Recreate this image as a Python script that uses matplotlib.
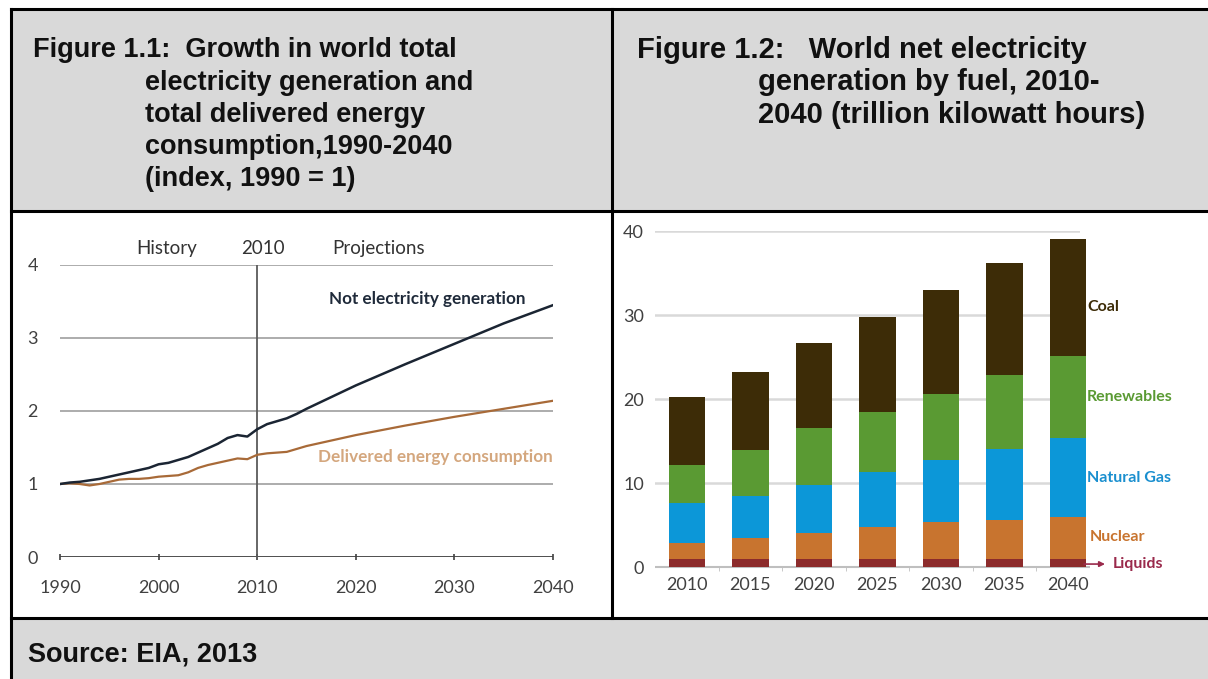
import matplotlib
matplotlib.use("Agg")
import matplotlib.pyplot as plt
from matplotlib.patches import Rectangle
import numpy as np

# ---------------- data ----------------
# Figure 1.1 (index, 1990 = 1)
years_line = [1990, 1991, 1992, 1993, 1994, 1995, 1996, 1997, 1998, 1999, 2000,
              2001, 2002, 2003, 2004, 2005, 2006, 2007, 2008, 2009, 2010, 2011,
              2012, 2013, 2014, 2015, 2020, 2025, 2030, 2035, 2040]
net_generation = [1.00, 1.02, 1.03, 1.05, 1.07, 1.10, 1.13, 1.16, 1.19, 1.22, 1.27,
                  1.29, 1.33, 1.37, 1.43, 1.49, 1.55, 1.63, 1.67, 1.65, 1.75, 1.82,
                  1.86, 1.90, 1.96, 2.03, 2.35, 2.64, 2.92, 3.20, 3.45]
delivered_energy = [1.00, 1.01, 1.00, 0.98, 1.00, 1.03, 1.06, 1.07, 1.07, 1.08, 1.10,
                    1.11, 1.12, 1.16, 1.22, 1.26, 1.29, 1.32, 1.35, 1.34, 1.40, 1.42,
                    1.43, 1.44, 1.48, 1.52, 1.67, 1.80, 1.92, 2.03, 2.14]
x_ticks_left = [1990, 2000, 2010, 2020, 2030, 2040]
y_ticks_left = [0, 1, 2, 3, 4]

# Figure 1.2 (trillion kWh)
bar_years = ["2010", "2015", "2020", "2025", "2030", "2035", "2040"]
liquids = [1.0, 1.0, 1.0, 0.9, 0.9, 0.9, 0.9]
nuclear = [1.9, 2.5, 3.1, 3.9, 4.5, 4.7, 5.1]
natural_gas = [4.7, 5.0, 5.7, 6.5, 7.3, 8.5, 9.4]
renewables = [4.5, 5.4, 6.7, 7.1, 7.9, 8.7, 9.7]
coal = [8.1, 9.3, 10.2, 11.4, 12.4, 13.4, 14.0]
fuel_names = ["Liquids", "Nuclear", "Natural Gas", "Renewables", "Coal"]
y_ticks_right = [0, 10, 20, 30, 40]

# ---------------- figure / table ----------------
W, H = 1208, 679
fig = plt.figure(figsize=(W / 100, H / 100), dpi=100)
fig.patch.set_facecolor("white")

bg = fig.add_axes([0, 0, 1, 1])
bg.set_xlim(0, W)
bg.set_ylim(H, 0)
bg.axis("off")

gray = "#d9d9d9"
bg.add_patch(Rectangle((11, 9), W - 11, 202, facecolor=gray, edgecolor="none"))
bg.add_patch(Rectangle((11, 618), W - 11, H - 618, facecolor=gray, edgecolor="none"))
lw_b = 2.2
bg.plot([11, W], [9, 9], color="black", lw=lw_b)
bg.plot([11, W], [211, 211], color="black", lw=lw_b)
bg.plot([11, W], [618, 618], color="black", lw=lw_b)
bg.plot([11, 11], [9, H], color="black", lw=lw_b)
bg.plot([612, 612], [9, 618], color="black", lw=lw_b)

hdr_font = dict(family="Liberation Sans", weight="bold", fontsize=19.5, color="#111111",
                va="center", ha="left")
hdr_font_r = dict(hdr_font, fontsize=21)
bg.text(33, 50, "Figure 1.1:  Growth in world total", **hdr_font)
for i, line in enumerate(["electricity generation and", "total delivered energy",
                          "consumption,1990-2040", "(index, 1990 = 1)"]):
    bg.text(145, 82.5 + i * 32.3, line, **hdr_font)
bg.text(637, 50, "Figure 1.2:   World net electricity", **hdr_font_r)
for i, line in enumerate(["generation by fuel, 2010-", "2040 (trillion kilowatt hours)"]):
    bg.text(758, 82.5 + i * 32.3, line, **hdr_font_r)
bg.text(28, 655, "Source: EIA, 2013", **hdr_font)


def ax_rect(x0, y0, x1, y1):
    return [x0 / W, 1 - y1 / H, (x1 - x0) / W, (y1 - y0) / H]


chart_font = "Lato"
tick_col = "#404040"

# ---------------- left chart ----------------
axl = fig.add_axes(ax_rect(60, 265, 553, 557))
axl.set_xlim(1990, 2040)
axl.set_ylim(0, 4)
for s in axl.spines.values():
    s.set_visible(False)
for yv in y_ticks_left[1:]:
    axl.axhline(yv, color="#a6a6a6", lw=1.3, zorder=1)
axl.axhline(0, color="#404040", lw=1.3, zorder=2)
axl.plot([2010, 2010], [0, 4], color="#5a5a5a", lw=1.3, zorder=2)
axl.plot(years_line, delivered_energy, color="#a86a38", lw=1.6, zorder=3)
axl.plot(years_line, net_generation, color="#1b2533", lw=1.8, zorder=4)
axl.set_xticks(x_ticks_left)
axl.set_xticklabels([str(v) for v in x_ticks_left])
axl.set_yticks(y_ticks_left)
axl.set_yticklabels([str(v) for v in y_ticks_left])
axl.tick_params(axis="x", length=5, direction="inout", color="#404040", width=1.2,
                labelsize=13, labelcolor=tick_col, pad=14)
axl.tick_params(axis="y", length=0, labelsize=13, labelcolor=tick_col, pad=16)
for lab in axl.get_xticklabels() + axl.get_yticklabels():
    lab.set_family(chart_font)
for xv, txt in [(2000.8, "History"), (2010.6, "2010"), (2022.3, "Projections")]:
    axl.text(xv, 4.22, txt, ha="center", va="center", fontsize=13.5,
             family=chart_font, color="#333333", clip_on=False)
axl.text(2027.2, 3.53, "Not electricity generation", ha="center", va="center",
         fontsize=12.3, weight="bold", family=chart_font, color="#1f2a3a")
axl.text(2028.1, 1.37, "Delivered energy consumption", ha="center", va="center",
         fontsize=12.3, weight="bold", family=chart_font, color="#d4a77e", clip_on=False)

# ---------------- right chart ----------------
c0, step = 687.0, 63.5
gx0, gx1 = 655, 1080
axr = fig.add_axes(ax_rect(gx0, 231, gx1, 567))
axr.set_xlim((gx0 - c0) / step, (gx1 - c0) / step)
axr.set_ylim(0, 40)
for s in axr.spines.values():
    s.set_visible(False)
for yv in y_ticks_right[1:]:
    axr.axhline(yv, color="#d9d9d9", lw=1.8, zorder=0)
xpos = np.arange(len(bar_years))
axr.hlines(0, -0.5, 6.35, color="#bfbfbf", lw=1.5, zorder=1, clip_on=False)

colors = ["#8c2b2b", "#c8742f", "#0c97d8", "#5a9a33", "#3d2c07"]
series = [liquids, nuclear, natural_gas, renewables, coal]
bottom = np.zeros(len(bar_years))
for vals, col in zip(series, colors):
    axr.bar(xpos, vals, width=0.57, bottom=bottom, color=col, zorder=2, clip_on=False)
    bottom += np.array(vals)

axr.set_xticks(xpos)
axr.set_xticklabels(bar_years)
axr.set_xticks(xpos[:-1] + 0.5, minor=True)
axr.set_yticks(y_ticks_right)
axr.set_yticklabels([str(v) for v in y_ticks_right])
axr.tick_params(axis="x", which="major", length=0, labelsize=13, labelcolor=tick_col, pad=7)
axr.tick_params(axis="x", which="minor", length=3, color="#bfbfbf", direction="out")
axr.tick_params(axis="y", length=0, labelsize=13, labelcolor=tick_col, pad=8)
for lab in axr.get_xticklabels() + axr.get_yticklabels():
    lab.set_family(chart_font)

lab_x = (1087 - c0) / step
lab_specs = [("Coal", 31.0, "#3d2c07", lab_x),
             ("Renewables", 20.2, "#5a9a33", lab_x),
             ("Natural Gas", 10.6, "#1a8fcf", lab_x),
             ("Nuclear", 3.6, "#c8742f", lab_x + 0.05),
             ("Liquids", 0.4, "#9a2a4c", (1113 - c0) / step)]
for name, yv, col, xv in lab_specs:
    axr.text(xv, yv, name, ha="left", va="center", fontsize=11.5, weight="bold",
             family=chart_font, color=col, clip_on=False)
axr.annotate("", xy=((1105 - c0) / step, 0.35), xytext=((1084 - c0) / step, 0.35),
             arrowprops=dict(arrowstyle="-|>", color="#9a2a4c", lw=1.2,
                             mutation_scale=8, shrinkA=0, shrinkB=0),
             annotation_clip=False)

fig.savefig("out.png", dpi=100)
